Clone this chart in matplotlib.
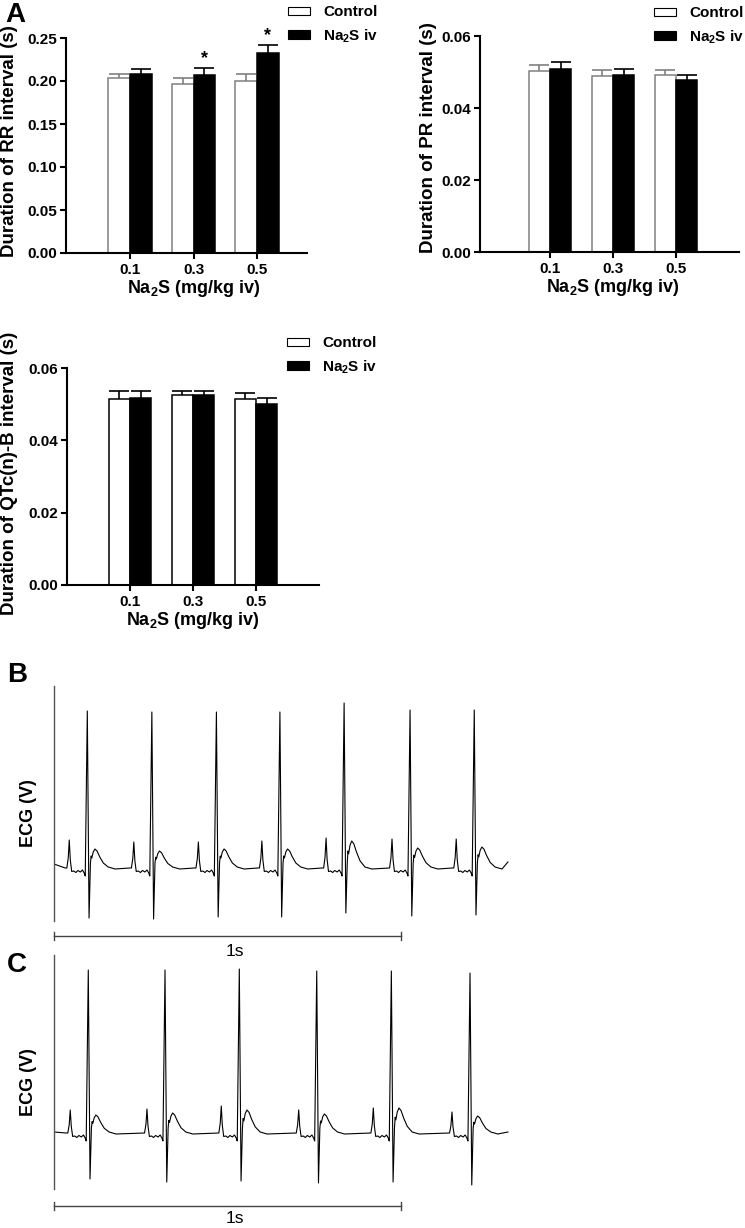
import matplotlib
matplotlib.use('Agg')
import matplotlib.pyplot as plt
from matplotlib.patches import Patch
from matplotlib.ticker import FormatStrFormatter
import numpy as np

plt.rcParams['font.family'] = ['Liberation Sans', 'DejaVu Sans']
plt.rcParams['font.weight'] = 'bold'
plt.rcParams['axes.labelweight'] = 'bold'
plt.rcParams['mathtext.fontset'] = 'custom'
plt.rcParams['mathtext.rm'] = 'Liberation Sans:bold'
plt.rcParams['mathtext.bf'] = 'Liberation Sans:bold'
plt.rcParams['mathtext.it'] = 'Liberation Sans:bold'
plt.rcParams['mathtext.default'] = 'rm'

# ---------------- data ----------------
doses = ['0.1', '0.3', '0.5']
groups = ['Control', 'Na$_2$S iv']

rr_control = [0.203, 0.196, 0.200]
rr_control_sem = [0.0055, 0.0070, 0.0080]
rr_na2s = [0.208, 0.2075, 0.232]
rr_na2s_sem = [0.0060, 0.0077, 0.0100]
rr_significant = [False, True, True]

pr_control = [0.0502, 0.0488, 0.0491]
pr_control_sem = [0.0017, 0.0018, 0.0014]
pr_na2s = [0.0508, 0.0491, 0.0478]
pr_na2s_sem = [0.0019, 0.0016, 0.0013]

qtc_control = [0.0515, 0.0525, 0.0515]
qtc_control_sem = [0.0021, 0.0011, 0.0016]
qtc_na2s = [0.0517, 0.0524, 0.0501]
qtc_na2s_sem = [0.0019, 0.0012, 0.0015]

# ECG beat template (time relative to R peak in s, amplitude a.u.), reference beat
beat_dt = [-0.064, -0.059, -0.055, -0.052, -0.049, -0.045, -0.039, -0.033, -0.027,
           -0.020, -0.014, -0.009, -0.006, 0.000, 0.005, 0.009, 0.011, 0.013,
           0.017, 0.022, 0.028, 0.036, 0.046, 0.060, 0.080]
beat_v = [0.00, 0.00, 0.10, 0.28, 0.08, -0.035, -0.03, -0.045, -0.025,
          -0.04, -0.02, -0.05, -0.08, 1.57, -0.50, 0.05, 0.12, 0.10,
          0.16, 0.19, 0.17, 0.11, 0.05, 0.01, -0.01]
beat_role = ['', '', 'P', 'P', 'P', '', '', '', '',
             '', '', '', '', 'R', 'S', '', 'T', 'T',
             'T', 'T', 'T', 'T', 'T', '', '']
beat_ref = {'P': 0.28, 'R': 1.57, 'S': -0.50, 'T': 0.19}

# Panel B (control) beats
b_r_times = [0.096, 0.282, 0.468, 0.651, 0.836, 1.026, 1.211]
b_p_amp = [0.28, 0.26, 0.26, 0.27, 0.30, 0.29, 0.29]
b_r_amp = [1.57, 1.56, 1.56, 1.56, 1.65, 1.58, 1.58]
b_s_amp = [-0.50, -0.51, -0.49, -0.49, -0.45, -0.48, -0.47]
b_t_amp = [0.19, 0.17, 0.19, 0.19, 0.27, 0.20, 0.21]
b_span = [0.0, 1.308]
b_ends = [0.04, 0.06]

# Panel C (Na2S) beats
c_r_times = [0.0988, 0.3199, 0.5340, 0.7571, 0.9721, 1.1988]
c_p_amp = [0.23, 0.24, 0.27, 0.23, 0.25, 0.21]
c_r_amp = [1.63, 1.63, 1.64, 1.62, 1.62, 1.60]
c_s_amp = [-0.46, -0.49, -0.48, -0.50, -0.49, -0.52]
c_t_amp = [0.18, 0.20, 0.23, 0.19, 0.25, 0.17]
c_span = [0.0, 1.308]
c_ends = [0.01, 0.01]

scale_bar_s = 1.0

# ---------------- layout helpers ----------------
W, H = 745, 1228
fig = plt.figure(figsize=(W / 100, H / 100), dpi=100)


def rect(l, t, r, b):
    return [l / W, 1 - b / H, (r - l) / W, (b - t) / H]


def bar_panel(ax, ctrl, ctrl_err, trt, trt_err, ymax, yticks, fmt, ylabel,
              edge, xlim, ylab_xy, xlab_xy, leg_xy, sig=None):
    x = np.arange(len(doses))
    w = 0.34
    bc = ax.bar(x - w / 2, ctrl, w, color='white', edgecolor=edge, linewidth=1.1,
                yerr=[np.zeros(len(ctrl)), ctrl_err], capsize=7,
                error_kw=dict(ecolor=edge, elinewidth=1.2, capthick=1.2), zorder=2)
    bt = ax.bar(x + w / 2, trt, w, color='black', edgecolor='black', linewidth=1.1,
                yerr=[np.zeros(len(trt)), trt_err], capsize=7,
                error_kw=dict(ecolor='black', elinewidth=1.2, capthick=1.2), zorder=2)
    for c in (bc, bt):
        c.errorbar.lines[1][0].set_visible(False)
    if sig is not None:
        for i, s in enumerate(sig):
            if s:
                ax.text(x[i] + w / 2, trt[i] + trt_err[i] + ymax * 0.004, '*',
                        ha='center', va='bottom', fontsize=13, clip_on=False)
    ax.set_xlim(*xlim)
    ax.set_ylim(0, ymax)
    ax.set_xticks(x)
    ax.set_xticklabels(doses)
    ax.set_yticks(yticks)
    ax.yaxis.set_major_formatter(FormatStrFormatter(fmt))
    for s in ('top', 'right'):
        ax.spines[s].set_visible(False)
    for s in ('left', 'bottom'):
        ax.spines[s].set_linewidth(1.5)
    ax.tick_params(direction='out', length=4.5, width=1.5, labelsize=11)
    ax.tick_params(axis='y', pad=1.8)
    ax.tick_params(axis='x', pad=2.8)
    ax.set_ylabel(ylabel, fontsize=13.5)
    ax.yaxis.set_label_coords(*ylab_xy)
    ax.set_xlabel('Na$_2$S (mg/kg iv)', fontsize=13)
    ax.xaxis.set_label_coords(*xlab_xy)
    handles = [Patch(facecolor='white', edgecolor='black', linewidth=0.8, label=groups[0]),
               Patch(facecolor='black', edgecolor='black', linewidth=0.8, label=groups[1])]
    ax.legend(handles=handles, loc='center left',
              bbox_to_anchor=(leg_xy[0] / W, 1 - leg_xy[1] / H),
              bbox_transform=fig.transFigure, frameon=False, borderpad=0,
              borderaxespad=0, handlelength=1.45, handleheight=0.5,
              handletextpad=0.85, labelspacing=0.5, prop={'weight': 'bold', 'size': 11})


ax1 = fig.add_axes(rect(66, 38, 307, 253))
bar_panel(ax1, rr_control, rr_control_sem, rr_na2s, rr_na2s_sem, 0.25,
          [0, 0.05, 0.10, 0.15, 0.20, 0.25], '%.2f', 'Duration of RR interval (s)',
          '#808080', (-1.008, 2.787), ((18 - 66) / 241, 0.521), (0.531, -0.115), (288, 25),
          sig=rr_significant)

ax2 = fig.add_axes(rect(480, 36, 739, 252))
bar_panel(ax2, pr_control, pr_control_sem, pr_na2s, pr_na2s_sem, 0.06,
          [0, 0.02, 0.04, 0.06], '%.2f', 'Duration of PR interval (s)',
          '#808080', (-1.111, 3.0), ((437 - 480) / 259, 0.528), (0.514, -0.115), (654, 26))

ax3 = fig.add_axes(rect(67, 368, 319, 585))
bar_panel(ax3, qtc_control, qtc_control_sem, qtc_na2s, qtc_na2s_sem, 0.06,
          [0, 0.02, 0.04, 0.06], '%.2f', 'Duration of QTc(n)-B interval (s)',
          'black', (-1.0, 3.0), ((18 - 67) / 252, 0.516), (0.5, -0.115), (287, 356))


def build_trace(r_times, p_amp, r_amp, s_amp, t_amp, span, ends):
    t = [span[0]]
    v = [ends[0]]
    for i, rt in enumerate(r_times):
        amps = {'P': p_amp[i], 'R': r_amp[i], 'S': s_amp[i], 'T': t_amp[i]}
        for dt, val, role in zip(beat_dt, beat_v, beat_role):
            tt = rt + dt
            if tt < span[0] or tt > span[1]:
                continue
            scale = amps[role] / beat_ref[role] if role else 1.0
            t.append(tt)
            v.append(val * scale)
    t.append(span[1])
    v.append(ends[1])
    return np.array(t), np.array(v)


def ecg_panel(ax, trace, ylim, bar_y, text_y, ylab_xy):
    ax.patch.set_visible(False)
    t, v = trace
    ax.plot(t, v, color='black', linewidth=0.8)
    ax.set_xlim(0, 1.314)
    ax.set_ylim(*ylim)
    for s in ('top', 'right', 'bottom'):
        ax.spines[s].set_visible(False)
    ax.spines['left'].set_color('#555555')
    ax.spines['left'].set_linewidth(1.0)
    ax.set_xticks([])
    ax.set_yticks([])
    ax.plot([0, scale_bar_s], [bar_y, bar_y], color='#444444', linewidth=1.0, clip_on=False)
    for xe in (0, scale_bar_s):
        ax.plot([xe, xe], [bar_y - 0.04, bar_y + 0.04], color='#444444',
                linewidth=1.0, clip_on=False)
    ax.text(0.52 * scale_bar_s, text_y, '1s', ha='center', va='center',
            fontsize=12.5, fontweight='normal', clip_on=False)
    ax.set_ylabel('ECG (V)', fontsize=13)
    ax.yaxis.set_label_coords(*ylab_xy)


axB = fig.add_axes(rect(54, 686, 510, 921))
ecg_panel(axB, build_trace(b_r_times, b_p_amp, b_r_amp, b_s_amp, b_t_amp, b_span, b_ends),
          (-0.53, 1.82), -0.68, -0.84, (-0.037, 0.46))

axC = fig.add_axes(rect(54, 955, 510, 1189))
ecg_panel(axC, build_trace(c_r_times, c_p_amp, c_r_amp, c_s_amp, c_t_amp, c_span, c_ends),
          (-0.56, 1.78), -0.73, -0.855, (-0.037, 0.457))

fig.text(5 / W, 1 - 22 / H, 'A', fontsize=20, va='baseline', ha='left')
fig.text(7 / W, 1 - 682 / H, 'B', fontsize=20, va='baseline', ha='left')
fig.text(7 / W, 1 - 972 / H, 'C', fontsize=20, va='baseline', ha='left')

fig.savefig('out.png', dpi=100, facecolor='white')
